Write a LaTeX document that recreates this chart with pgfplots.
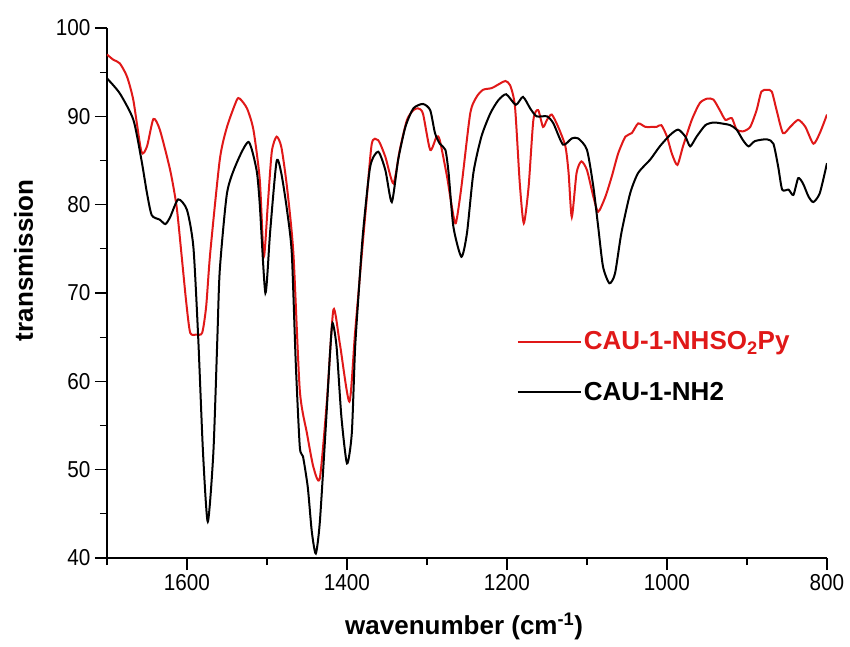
\documentclass[border=0pt]{standalone}
\usepackage{pgfplots}
\pgfplotsset{compat=1.18}
\usepackage{fontspec}
\setmainfont{Liberation Sans}
\newfontfamily\tickfont[FakeStretch=0.9]{Liberation Sans}
\definecolor{specred}{RGB}{224,24,24}
\begin{document}
\begin{tikzpicture}
\useasboundingbox (-107pt,-88pt) rectangle (743pt,558pt);
\begin{axis}[
  at={(0,0)}, anchor=south west,
  scale only axis, width=720pt, height=530pt,
  xmin=800, xmax=1700, ymin=40, ymax=100,
  x dir=reverse,
  axis x line*=bottom, axis y line*=left,
  axis line style={line width=1.3pt,-},
  tick align=outside,
  major tick length=12pt, minor tick length=7pt,
  every tick/.style={line width=1.3pt,black},
  xtick={800,1000,1200,1400,1600},
  minor xtick={900,1100,1300,1500,1700},
  ytick={40,50,60,70,80,90,100},
  minor ytick={45,55,65,75,85,95},
  /pgf/number format/assume math mode=true,
  /pgf/number format/1000 sep={},
  tick label style={font=\tickfont\fontsize{23}{23}\selectfont},
  xticklabel style={yshift=-1pt},
  yticklabel style={xshift=-1pt},
  xlabel={\textbf{wavenumber (cm\textsuperscript{-1})}},
  ylabel={\textbf{transmission}},
  label style={font=\fontsize{26}{26}\selectfont},
  x label style={at={(axis description cs:0.496,-0.145)},anchor=base},
  y label style={at={(axis description cs:-0.103,0.562)},anchor=base,rotate=0},
  legend style={at={(axis description cs:0.569,0.431)},anchor=north west,draw=none,fill=none,
    font=\bfseries\fontsize{26}{26}\selectfont, row sep=27pt, inner sep=0pt},
  legend cell align=left,
  legend image code/.code={\draw[#1] (0pt,0pt) -- (55pt,0pt); \path (0pt,0pt) -- (63pt,0pt);},
]
\addplot[specred, line width=2pt, smooth, tension=0.4] coordinates {
(1700,97.0) (1692,96.4) (1684,96.0) (1675,94.5) (1667,91.8) (1657,86.0) (1650,86.6)
(1642,89.7) (1634,88.5) (1621,83.9) (1613,79.8) (1607,74.5) (1601,69.0) (1596,65.5)
(1588,65.3) (1581,65.5) (1576,68.5) (1571,74.5) (1559,85.1) (1550,88.8) (1538,91.8)
(1534,92.0) (1525,90.9) (1517,88.5) (1509,82.8) (1504,74.1) (1499,80.0) (1494,86.0)
(1488,87.7) (1482,86.5) (1475,82.0) (1467,74.5) (1459,59.0) (1450,54.1) (1442,50.3)
(1434,49.0) (1425,57.9) (1417,68.1) (1409,64.3) (1397,57.7) (1390,65.4) (1381,74.9)
(1376,80.0) (1369,86.9) (1361,87.3) (1352,85.4) (1342,82.4) (1334,86.2) (1325,89.6)
(1317,90.7) (1311,90.9) (1305,90.3) (1296,86.2) (1288,87.7) (1284,87.3) (1275,83.2)
(1269,79.8) (1264,77.9) (1257,82.0) (1246,90.3) (1238,92.2) (1230,93.0) (1219,93.2)
(1209,93.7) (1202,94.0) (1196,93.5) (1190,91.1) (1184,82.4) (1179,77.9) (1173,82.0)
(1167,89.6) (1161,90.7) (1155,88.8) (1150,89.6) (1144,90.2) (1136,88.8) (1127,86.6)
(1123,83.6) (1119,78.6) (1113,83.6) (1107,84.9) (1100,83.9) (1092,80.9) (1086,79.2)
(1077,80.9) (1069,83.2) (1061,85.8) (1052,87.7) (1044,88.1) (1036,89.2) (1027,88.8)
(1019,88.8) (1013,88.8) (1007,89.0) (1000,87.7) (994,85.8) (987,84.5) (980,86.6)
(969,89.6) (959,91.5) (950,92.0) (942,91.9) (934,90.7) (927,89.6) (919,89.8)
(913,88.5) (905,88.3) (896,88.8) (888,90.7) (882,92.8) (875,93.0) (869,92.8)
(863,90.7) (855,88.1) (846,88.8) (836,89.6) (827,88.8) (817,86.9) (809,88.1) (800,90.2)
};
\addlegendentry{\textcolor{specred}{CAU-1-NHSO\textsubscript{2}Py}}
\addplot[black, line width=2pt, smooth, tension=0.4] coordinates {
(1700,94.3) (1684,92.6) (1667,89.6) (1657,85.1) (1650,81.3) (1644,78.8) (1634,78.3)
(1627,77.8) (1621,78.6) (1611,80.6) (1600,79.4) (1592,75.2) (1586,65.0) (1580,52.0)
(1574,44.1) (1567,52.0) (1562,65.0) (1559,72.6) (1550,81.3) (1538,84.7) (1523,87.1)
(1513,83.9) (1509,80.0) (1502,70.0) (1496,77.0) (1488,84.9) (1482,83.5) (1475,79.4)
(1469,74.5) (1464,62.0) (1459,52.6) (1455,51.5) (1449,48.0) (1444,43.0) (1439,40.5)
(1434,44.0) (1427,54.1) (1421,63.5) (1418,66.6) (1413,63.9) (1407,56.0) (1400,50.7)
(1394,54.1) (1390,63.5) (1386,69.2) (1380,76.8) (1371,84.3) (1361,86.0) (1352,83.9)
(1344,80.3) (1336,85.1) (1327,88.8) (1317,90.9) (1305,91.4) (1296,90.7) (1290,88.1)
(1284,86.9) (1277,86.2) (1273,83.6) (1267,77.5) (1257,74.1) (1250,76.8) (1242,83.6)
(1232,87.7) (1221,90.3) (1211,91.8) (1201,92.5) (1189,91.3) (1180,92.2) (1171,90.9)
(1163,90.0) (1150,90.0) (1142,89.2) (1130,86.8) (1119,87.5) (1111,87.5) (1100,86.2)
(1092,82.0) (1086,77.5) (1080,73.0) (1072,71.1) (1065,72.2) (1057,76.8) (1046,81.3)
(1036,83.6) (1021,85.1) (1009,86.6) (996,87.9) (986,88.5) (977,87.7) (971,86.6)
(963,87.7) (952,89.0) (942,89.3) (932,89.2) (921,89.0) (913,88.5) (905,87.3)
(898,86.6) (890,87.2) (875,87.4) (867,86.9) (861,84.3) (856,81.7) (848,81.7)
(842,81.1) (836,83.0) (830,82.4) (823,80.9) (817,80.3) (809,81.3) (800,84.7)
};
\addlegendentry{CAU-1-NH2}
\end{axis}
\end{tikzpicture}
\end{document}
